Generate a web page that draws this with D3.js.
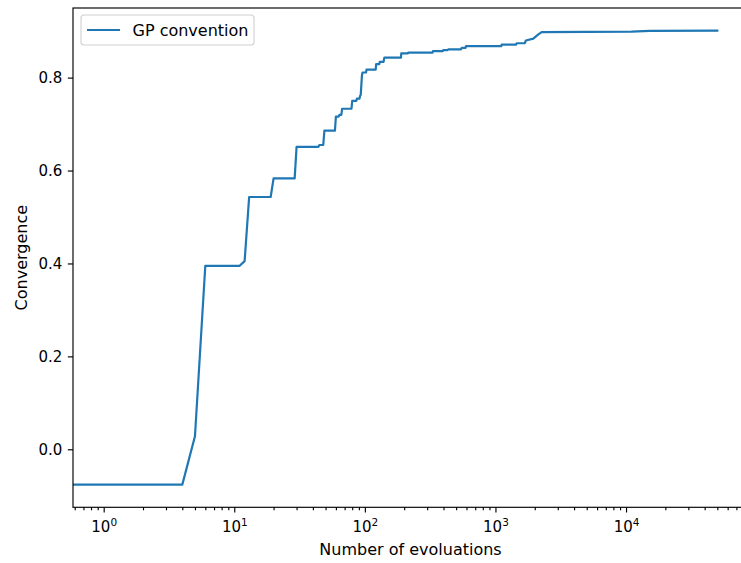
<!DOCTYPE html>
<html>
<head>
<meta charset="utf-8">
<script src="https://cdn.jsdelivr.net/npm/d3@7"></script>
<style>
  body { margin: 0; background: #fff; overflow: hidden; }
  text { font-family: "DejaVu Sans", sans-serif; }
</style>
</head>
<body>
<div class="svg-container"></div>
<script>
// best-so-far convergence
var evals = [0, 1, 4, 5, 6, 11, 12, 13, 19, 20, 29, 30, 44, 45, 48, 49, 59, 60, 63, 64, 66, 67,
  79, 80, 86, 87, 91, 92, 93, 95, 96, 102, 103, 121, 122, 129, 130, 139, 141, 189, 190,
  213, 215, 330, 332, 395, 398, 430, 435, 545, 551, 590, 595, 1110, 1115, 1440, 1453,
  1680, 1710, 1950, 2130, 2260, 11000, 15200, 50000];
var convergence = [-0.076, -0.076, -0.076, 0.028, 0.395, 0.395, 0.405, 0.543, 0.543, 0.583, 0.583, 0.651, 0.651, 0.655, 0.655, 0.686, 0.686, 0.716, 0.716, 0.72, 0.72, 0.733,
  0.733, 0.75, 0.75, 0.755, 0.755, 0.761, 0.763, 0.805, 0.811, 0.811, 0.817, 0.817, 0.829, 0.829, 0.834, 0.834, 0.843, 0.843, 0.852,
  0.852, 0.854, 0.854, 0.857, 0.857, 0.859, 0.859, 0.861, 0.861, 0.864, 0.864, 0.868, 0.868, 0.871, 0.871, 0.874,
  0.874, 0.880, 0.884, 0.893, 0.898, 0.899, 0.9005, 0.901];
var xMajor = [1, 10, 100, 1000, 10000];
var xMajorExp = ["0", "1", "2", "3", "4"];
var yTicks = [0.0, 0.2, 0.4, 0.6, 0.8];
var seriesName = "GP convention";

(function draw() {
  "use strict";

  var W = 741, H = 563;
  var left = 73, top = 8, right = 748, bottom = 507.3;
  var labelSize = '16px', tickSize = '15px';

  var svg = d3.select('.svg-container').append('svg')
      .attr('width', W).attr('height', H);

  // matplotlib style 5% margins (log space for x)
  var pos = evals.filter(function(d){ return d > 0; });
  var lx0 = Math.log10(d3.min(pos)), lx1 = Math.log10(d3.max(pos));
  var mx = (lx1 - lx0) * 0.05;
  var x = d3.scaleLog()
      .domain([Math.pow(10, lx0 - mx), Math.pow(10, lx1 + mx)])
      .range([left, right]);

  var y0 = d3.min(convergence), y1 = d3.max(convergence);
  var my = (y1 - y0) * 0.05;
  var y = d3.scaleLinear()
      .domain([y0 - my, y1 + my])
      .range([bottom, top]);

  svg.append('clipPath').attr('id', 'clip')
    .append('rect').attr('x', left).attr('y', top)
    .attr('width', right - left).attr('height', bottom - top);

  var pts = evals.map(function(e, i){ return [e, convergence[i]]; });
  var line = d3.line()
      .x(function(d){ return d[0] > 0 ? x(d[0]) : left - 50; }) // x=0 is clipped off to the left
      .y(function(d){ return y(d[1]); });

  svg.append('path')
      .datum(pts)
      .attr('clip-path', 'url(#clip)')
      .attr('d', line)
      .attr('fill', 'none')
      .attr('stroke', '#1f77b4')
      .attr('stroke-width', 2.2)
      .attr('stroke-linejoin', 'round')
      .attr('stroke-linecap', 'square');

  // minor x ticks
  var dom = x.domain();
  var xMinor = x.ticks().filter(function(t){
    var k = Math.round(Math.log10(t));
    return Math.abs(Math.log10(t) - k) > 1e-9 && t >= dom[0] && t <= dom[1];
  });

  var gx = svg.append('g').attr('transform', 'translate(0,' + bottom + ')');
  gx.call(d3.axisBottom(x).tickValues(xMinor).tickSize(3).tickFormat(''))
    .call(function(g){ g.select('.domain').remove(); });
  var gx2 = svg.append('g').attr('transform', 'translate(0,' + bottom + ')')
      .call(d3.axisBottom(x).tickValues(xMajor).tickSize(5.2).tickFormat(''));
  gx2.select('.domain').remove();
  svg.selectAll('.tick line').attr('stroke', '#000').attr('stroke-width', 1.15);

  gx2.selectAll('.tick').each(function(d, i){
    var t = d3.select(this).append('text')
        .attr('y', 25.2).attr('fill', '#000')
        .attr('text-anchor', 'middle')
        .style('font-size', tickSize);
    t.append('tspan').text('10');
    t.append('tspan').attr('dy', -6.5).style('font-size', '10.5px').text(xMajorExp[i]);
  });

  var gy = svg.append('g').attr('transform', 'translate(' + left + ',0)')
      .call(d3.axisLeft(y).tickValues(yTicks).tickSize(5.2).tickPadding(5.5)
        .tickFormat(d3.format('.1f')));
  gy.select('.domain').remove();
  gy.selectAll('.tick line').attr('stroke', '#000').attr('stroke-width', 1.15);
  gy.selectAll('.tick text').attr('fill', '#000').style('font-size', tickSize);

  // frame
  svg.append('rect')
      .attr('x', left).attr('y', top)
      .attr('width', right - left).attr('height', bottom - top)
      .attr('fill', 'none').attr('stroke', '#000').attr('stroke-width', 1.15);

  svg.append('text')
      .attr('x', (left + right) / 2).attr('y', 555)
      .attr('text-anchor', 'middle').style('font-size', labelSize)
      .text('Number of evoluations');

  svg.append('text')
      .attr('transform', 'translate(26.5,' + ((top + bottom) / 2) + ') rotate(-90)')
      .attr('text-anchor', 'middle').style('font-size', labelSize)
      .text('Convergence');

  // legend
  var lg = svg.append('g');
  lg.append('rect')
      .attr('x', 81).attr('y', 15).attr('width', 173).attr('height', 30)
      .attr('rx', 3).attr('fill', '#fff').attr('fill-opacity', 0.8)
      .attr('stroke', '#d0d0d0').attr('stroke-width', 1.1);
  lg.append('line')
      .attr('x1', 87).attr('x2', 120).attr('y1', 30).attr('y2', 30)
      .attr('stroke', '#1f77b4').attr('stroke-width', 2.2);
  lg.append('text')
      .attr('x', 132.5).attr('y', 36)
      .style('font-size', labelSize)
      .text(seriesName);
})();
</script>
</body>
</html>
